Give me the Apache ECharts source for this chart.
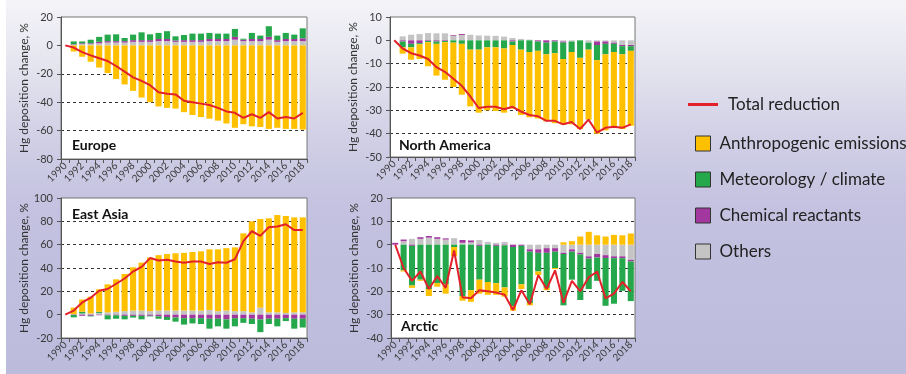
<!DOCTYPE html>
<html><head><meta charset="utf-8">
<script src="https://cdn.jsdelivr.net/npm/echarts@6/dist/echarts.min.js"></script>
<style>html,body{margin:0;padding:0;}#c{width:906px;height:374px;}</style>
</head><body><div id="c"></div>
<script>
const years = ['1990','1991','1992','1993','1994','1995','1996','1997','1998','1999','2000','2001','2002','2003','2004','2005','2006','2007','2008','2009','2010','2011','2012','2013','2014','2015','2016','2017','2018'];

// Europe
const euTotal  = [0,-1.5,-4.7,-7,-9,-11,-14.5,-18.5,-22.5,-25,-28,-33,-34,-34.5,-39,-40,-41,-42,-44,-46.5,-47.5,-51,-48.5,-51,-47,-51.5,-50.5,-51.5,-47.5];
const euAnthro = [0,-4.3,-8,-11.5,-15.6,-19.5,-23.7,-27.5,-32,-36.7,-40,-43,-44,-44.5,-47,-49,-50.5,-51.6,-53,-55,-58,-55.5,-57,-57.5,-58.8,-58,-58.8,-58.8,-59.3];
const euMeteo  = [0,2.0,1.3,2.5,3.5,4.6,4.8,2.2,3.9,5.5,4.1,4.3,5.5,2.9,3.6,4.6,4.6,4.3,3.8,3.8,5.6,0.7,4.3,2.4,7.5,3.2,4.3,3.1,7];
const euChem   = [0,0.3,0.5,0.5,1,1,1,1,1.2,1.2,1.2,1.5,1.5,1,1.2,1.2,1.2,1.5,1.5,1.5,2,1,1.5,1.5,2,1.2,1.5,1.5,2];
const euOther  = [0,0.5,1,1,1.5,2,2,2,2.5,2.5,2.5,3,3,2.5,2.5,2.5,2.5,3,3,3,4,3,3,3,4,2.5,3,3,3];

// North America
const naTotal  = [0,-3.5,-5.5,-6.5,-8,-11.5,-13.5,-16.5,-19.5,-24,-29,-28.5,-28.5,-29.5,-28.5,-30.5,-32,-32.5,-34.5,-34.5,-36,-35,-38,-34,-39.5,-37.5,-37,-37.5,-36];
const naAnthro = [0,-2.7,-5.3,-6.3,-10.3,-13.6,-16.1,-19,-21.8,-24.3,-27,-27,-27.3,-27.5,-27.3,-28,-28,-29,-28.7,-30,-28,-31,-30.5,-30,-31.5,-32.6,-32.6,-32,-32.1];
const naMeteo  = [0,-2.5,-1.5,-0.5,-0.5,-1,-0.5,-1,-1.5,-4,-4,-3,-3,-3.5,-1.5,-4,-5,-4,-5,-5,-7,-4.5,-7.5,-3,-6.5,-4.5,-3.5,-3.5,-2];
const naChem   = [0,-0.5,-1.5,-1.2,-0.3,-0.5,-0.3,0.3,0.4,0,0,0,0,0,-0.5,0,0,-0.5,-1,-0.5,-0.5,0,0,0,-1.5,-1,-0.5,-0.5,-0.5];
const naOther  = [0,1.7,2.4,2.7,3.1,3,3,2,2.3,2.4,2.1,2,1.9,1.6,1,0.6,0.3,0,0,0,-0.5,-0.5,0,-1,-0.5,-0.5,-1,-2,-2];

// East Asia
const eaTotal  = [0,3.5,10.5,14.5,20.5,22,26.5,31,37,41,48.5,46.5,47,45.5,44.5,45.5,45.5,43.5,45,44.5,47.5,63,71.5,67.5,75,75.5,77.5,72.5,72.5];
const eaAnthro = [0,5.5,10.5,14.4,19.2,24,27.8,31.9,37.1,41.1,46,47.5,48.5,49.1,49.5,50.2,50.8,52,53,53.5,54.7,66.7,78,76,80.6,83.4,83.1,81.4,81.4];
const eaMeteo  = [0,-2,1.5,-0.5,1,-3.5,-3,-3,-1.5,-3,-0.5,-2,-2.5,-3.5,-5.5,-4.5,-5,-8.5,-6.5,-8,-7,-4,-4.5,-11,-4.5,-6.5,-2.5,-8.5,-7.5];
const eaChem   = [0,-0.3,-1,-1,-0.5,-0.5,-0.5,-1,-1,-1,-1,-1.5,-2,-2.5,-3,-3,-3,-3.5,-3.5,-4,-3,-3,-3.5,-4,-3.5,-3.5,-3,-3.5,-3.5];
const eaOther  = [0,0.5,1,1,1.5,2,2.5,3,3.5,3.5,3,3.5,3.5,3.5,3.5,3.5,3.5,4,3,3.5,3,3,2,6,2,2,1.5,2,2];

// Arctic
const arTotal  = [0,-10,-15.5,-11.5,-19,-13.5,-18.5,-2.5,-22.5,-23,-19.5,-20,-20.5,-21.5,-28,-19.5,-25.5,-13,-19,-11,-25,-15.5,-20,-14,-11.5,-23,-21,-16,-20];
const arAnthro = [0,-0.5,-1,-0.5,-3,-1.5,-4,-4,-2,-5,-6,-5.5,-5,-4,-2,-2,-1,-1.5,-1,-0.5,1,1.5,3.5,5.5,4,3.5,4.2,4,4.8];
const arMeteo  = [0,-11,-17,-15,-19,-16.5,-17,-1,-22,-19.5,-14.5,-16,-16,-18,-25.3,-16.5,-22,-8,-15,-7,-22,-12,-19.5,-13,-10,-20.5,-19.5,-14,-17];
const arChem   = [0.8,0.7,-0.5,0.7,0.7,0.7,0.5,0,1.2,0.8,-0.5,0,-0.5,-0.3,-1,-0.5,-1,-1.5,-2,-1.5,-0.5,-1,-0.7,-1,-1.5,-1.2,-0.8,-0.8,-0.7];
const arOther  = [0,1.5,2.5,2.5,3,2.5,2.2,2.8,0.8,1,2,1.2,0.8,1.2,0,0,-2,-2,-1.5,-1.5,-3.5,-2,-3.5,-5,-4,-4.5,-5,-5,-6.5];

const panelNames = ['Europe','North America','East Asia','Arctic'];
const yMin = [-80,-50,-20,-40];
const yMax = [20,10,100,20];
const yStep = [20,10,20,10];

const F = 'Lato, "Open Sans", sans-serif';
const D = '#333';
const T = 'rgba(0,0,0,0)';
const splitColors = [
  [T,D,D,D,T,T],
  [T,D,D,D,D,T,T],
  [T,T,D,D,D,D,T],
  [T,D,D,D,T,D,T]
];
const grids = [
  {left:61, top:17, width:246, height:142},
  {left:390, top:17, width:245, height:140},
  {left:61, top:198, width:246, height:140},
  {left:391, top:198, width:244, height:140}
];
const titlePos = [[72,138],[399,138],[72,207],[401,319]];
const panels = [
  [euOther,euChem,euMeteo,euAnthro,euTotal],
  [naOther,naChem,naMeteo,naAnthro,naTotal],
  [eaOther,eaChem,eaMeteo,eaAnthro,eaTotal],
  [arOther,arChem,arMeteo,arAnthro,arTotal]
];
const names = ['Others','Chemical reactants','Meteorology / climate','Anthropogenic emissions','Total reduction'];
const colors = ['#c4c4c4','#a2389f','#25a84b','#ffc000','#e3212a'];

const series = [];
panels.forEach((p,g)=>{
  for(let k=0;k<4;k++){
    series.push({type:'bar', name:names[k], xAxisIndex:g, yAxisIndex:g, stack:'s'+g,
      data:p[k], barCategoryGap:'28%', itemStyle:{color:colors[k]}, emphasis:{disabled:true}});
  }
  series.push({type:'line', name:names[4], xAxisIndex:g, yAxisIndex:g, data:p[4],
    symbol:'none', z:5, lineStyle:{color:colors[4], width:2}, itemStyle:{color:colors[4]}});
});

const option = {
  animation:false,
  backgroundColor:{type:'linear',x:0,y:0,x2:0,y2:1,colorStops:[
    {offset:0,color:'#f4f4f8'},{offset:0.18,color:'#e4e4ef'},{offset:0.35,color:'#d2d1e6'},
    {offset:0.55,color:'#c4c2e0'},{offset:1,color:'#bdbbdc'}]},
  textStyle:{fontFamily:F},
  grid: grids.map(g=>Object.assign({show:true, backgroundColor:'#ffffff', borderColor:'#777', borderWidth:1},g)),
  title: panelNames.map((n,i)=>({text:n, left:titlePos[i][0], top:titlePos[i][1], padding:0,
    textStyle:{fontFamily:F, fontSize:14, fontWeight:'bold', color:'#111'}})),
  xAxis: grids.map((g,i)=>({type:'category', gridIndex:i, data:years,
    axisLine:{onZero:false, lineStyle:{color:'#555'}},
    axisTick:{show:true, length:4, interval:0, lineStyle:{color:'#555'}},
    axisLabel:{interval:1, rotate:45, fontSize:10, color:'#3a3a3a', margin:5, fontFamily:F},
    splitLine:{show:false}})),
  yAxis: grids.map((g,i)=>({type:'value', gridIndex:i, min:yMin[i], max:yMax[i], interval:yStep[i],
    axisLine:{show:true, lineStyle:{color:'#555'}},
    axisTick:{show:true, length:4, lineStyle:{color:'#555'}},
    axisLabel:{fontSize:11, color:'#3a3a3a', margin:8, fontFamily:F},
    splitLine:{show:true, lineStyle:{color:splitColors[i], type:[3,3], width:1}},
    name:'Hg deposition change, %', nameLocation:'middle', nameGap:31,
    nameTextStyle:{fontSize:12, color:'#333', fontFamily:F}})),
  legend:[
    {data:['Total reduction'], left:688, top:96, padding:0, icon:'rect', itemWidth:30, itemHeight:3,
     selectedMode:false, textStyle:{fontSize:17, color:'#222', fontFamily:F, padding:[0,0,0,5]}},
    {data:['Anthropogenic emissions','Meteorology / climate','Chemical reactants','Others'],
     orient:'vertical', left:695, top:135, padding:0, icon:'rect', itemWidth:15, itemHeight:15, itemGap:19,
     selectedMode:false, itemStyle:{borderColor:'#333', borderWidth:1},
     textStyle:{fontSize:17, color:'#222', fontFamily:F, padding:[0,0,0,4]}}
  ],
  graphic:[{type:'rect', left:0, top:0, shape:{x:0,y:0,width:6,height:374}, style:{fill:'#ffffff'}, z:-1}],
  series: series
};
const chart = echarts.init(document.getElementById('c'), null, {renderer:'canvas'});
chart.setOption(option);
</script>
</body></html>
